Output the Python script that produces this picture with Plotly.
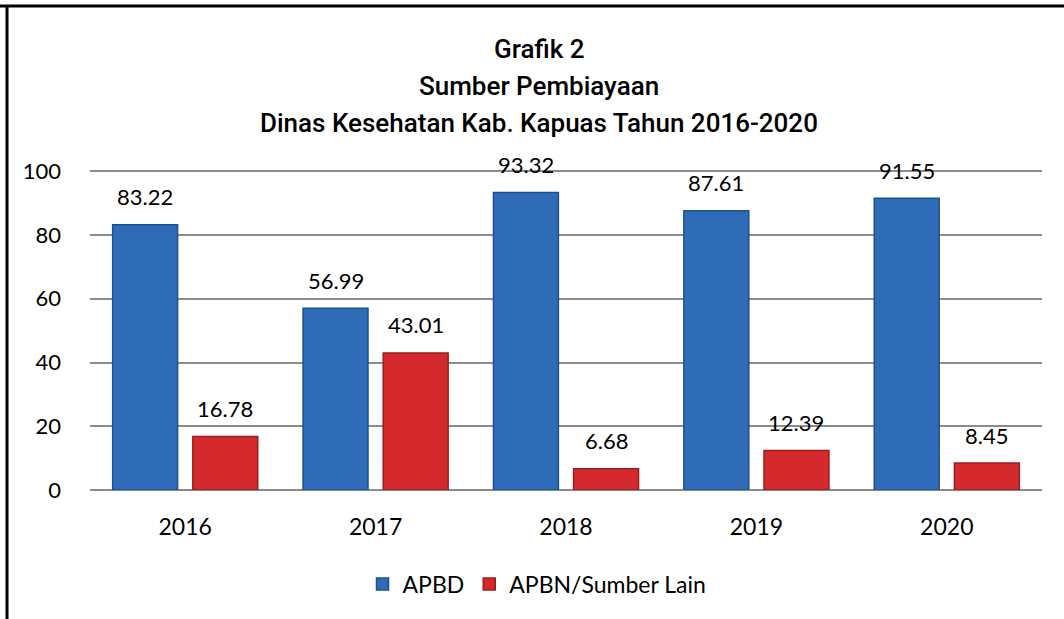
import plotly.graph_objects as go

years = ["2016", "2017", "2018", "2019", "2020"]
apbd = [83.22, 56.99, 93.32, 87.61, 91.55]
apbn = [16.78, 43.01, 6.68, 12.39, 8.45]
series_names = ["APBD", "APBN/Sumber Lain"]
title_lines = ["Grafik 2", "Sumber Pembiayaan", "Dinas Kesehatan Kab. Kapuas Tahun 2016-2020"]

W, H = 1064, 619
L, R, T, B = 90, 22, 170, 129
pw, ph = W - L - R, H - T - B
BARGAP = 0.158
GROUPGAP = 0.19
LABEL_FONT = dict(family="Lato", size=22, color="black")

def px_x(x):
    return (x - L) / pw

def px_y(y):
    return (H - B - y) / ph

fig = go.Figure()
fig.add_trace(go.Bar(
    x=years, y=apbd, name=series_names[0],
    marker=dict(color="#2F6CB8", line=dict(color="#1F4F8F", width=1.5)),
))
fig.add_trace(go.Bar(
    x=years, y=apbn, name=series_names[1],
    marker=dict(color="#D42A2D", line=dict(color="#9A1C1E", width=1.5)),
))

# value labels above each bar (offset to each bar's group slot)
slot = (1 - BARGAP) / 2
annotations = []
for si, vals in enumerate([apbd, apbn]):
    for i, v in enumerate(vals):
        annotations.append(dict(
            x=i + (si - 0.5) * slot, y=v, xref="x", yref="y",
            text=f"{v:.2f}", showarrow=False, xanchor="center", yanchor="middle",
            yshift=28, font=LABEL_FONT,
        ))

# title lines
for line, ypx in zip(title_lines, [49, 86, 123]):
    annotations.append(dict(
        text=line, xref="paper", yref="paper",
        x=px_x(539), y=px_y(ypx), xanchor="center", yanchor="middle", showarrow=False,
        font=dict(family="Roboto", size=26, color="black", weight=500),
    ))

fig.update_layout(
    width=W, height=H,
    margin=dict(l=L, r=R, t=T, b=B, autoexpand=False),
    paper_bgcolor="white", plot_bgcolor="white",
    barmode="group", bargap=BARGAP, bargroupgap=GROUPGAP,
    font=dict(family="Lato", size=22, color="black"),
    showlegend=True,
    legend=dict(orientation="h", x=px_x(537), y=px_y(584), xanchor="center", yanchor="middle",
                font=dict(family="Lato", size=23), itemwidth=30),
    annotations=annotations,
    shapes=[
        dict(type="line", xref="paper", yref="paper", x0=px_x(0), x1=px_x(W), y0=px_y(6), y1=px_y(6),
             line=dict(color="black", width=3)),
        dict(type="line", xref="paper", yref="paper", x0=px_x(7), x1=px_x(7), y0=px_y(6), y1=px_y(H),
             line=dict(color="black", width=3)),
    ],
)
fig.update_yaxes(range=[0, 100.4], tickvals=[0, 20, 40, 60, 80, 100], showgrid=True,
                 gridcolor="#8C8C8C", gridwidth=1.5,
                 zeroline=True, zerolinecolor="#8C8C8C", zerolinewidth=1.5,
                 ticks="", ticklabelstandoff=28, tickfont=dict(family="Lato", size=22))
fig.update_xaxes(showgrid=False, tickfont=dict(family="Lato", size=23), ticklabelstandoff=21)

fig.write_html("out.html", config={"displayModeBar": False},
               post_script="document.body.style.margin='0';document.body.style.overflow='hidden';")
